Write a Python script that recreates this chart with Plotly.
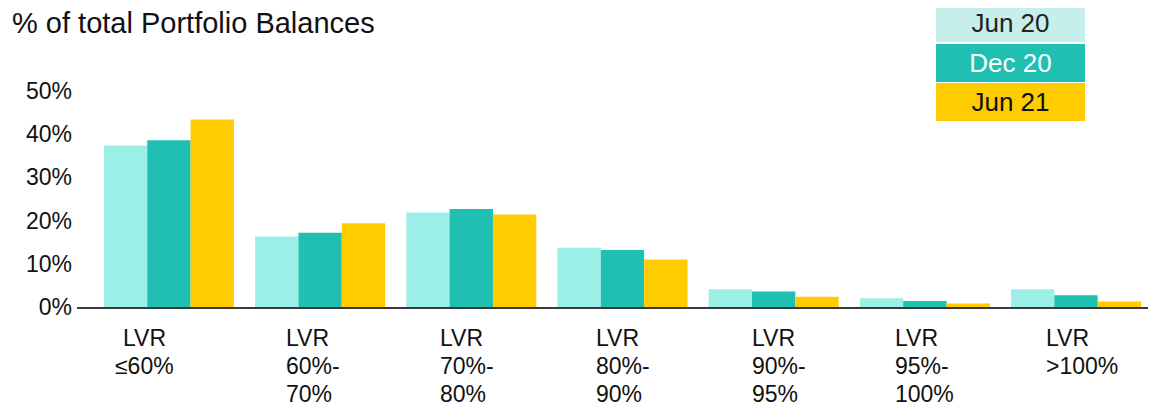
import plotly.graph_objects as go

# ---- data ----
categories = ["LVR<br>≤60%", "LVR<br>60%-<br>70%", "LVR<br>70%-<br>80%", "LVR<br>80%-<br>90%",
              "LVR<br>90%-<br>95%", "LVR<br>95%-<br>100%", "LVR<br>>100%"]
series_names = ["Jun 20", "Dec 20", "Jun 21"]
jun20 = [0.374, 0.163, 0.219, 0.137, 0.041, 0.020, 0.041]
dec20 = [0.386, 0.172, 0.227, 0.132, 0.036, 0.014, 0.027]
jun21 = [0.434, 0.194, 0.214, 0.110, 0.024, 0.008, 0.013]
y_tick_vals = [0, 0.1, 0.2, 0.3, 0.4, 0.5]
y_tick_text = ["0%", "10%", "20%", "30%", "40%", "50%"]
title_text = "% of total Portfolio Balances"

# ---- style ----
OFF = 8                  # page body margin
W, H = 1168 - OFF, 407 - OFF
bar_colors = ["#9BEFE7", "#1FBFB1", "#FFCC00"]
legend_bg = ["#C6EFEB", "#1FBFB1", "#FFCC00"]
legend_fg = ["#222222", "#FFFFFF", "#111111"]
FONT = "Liberation Sans, Arial, sans-serif"

# plot domain in screen px
L, R = 77 - OFF, 1148 - OFF
T, B = 90.5 - OFF, 306.7 - OFF
label_align = ["center", "left", "left", "left", "left", "left", "left"]
label_shift = [-24, -35, -32, -27, -23, -31, -31]
LABEL_FIRST = 31.0       # px below axis of first line's middle
LABEL_STEP = 27.8        # line spacing px

def px(xs, ys):
    """screen px -> paper coords"""
    xp, yp = xs - OFF, ys - OFF
    return (xp - L) / (R - L), (B - yp) / (B - T)

fig = go.Figure()
idx = list(range(len(categories)))
for name, vals, col in zip(series_names, [jun20, dec20, jun21], bar_colors):
    fig.add_trace(go.Bar(x=idx, y=vals, name=name, marker=dict(color=col, line=dict(width=0)),
                         showlegend=False))

fig.update_layout(
    width=W, height=H,
    margin=dict(l=L, r=W - R, t=T, b=H - B, pad=0),
    paper_bgcolor="white", plot_bgcolor="white",
    barmode="group", bargap=0.14, bargroupgap=0,
    font=dict(family=FONT, color="#111111"),
    xaxis=dict(range=[-0.608, 6.476], showticklabels=False, showgrid=False, zeroline=False,
               showline=True, linecolor="#3a3a3a", linewidth=2, ticks=""),
    yaxis=dict(range=[0, 0.5], tickvals=y_tick_vals, ticktext=y_tick_text, showgrid=False,
               zeroline=False, showline=False, ticks="", ticklabelstandoff=4,
               tickfont=dict(size=23, color="#111111")),
)

# category labels (one annotation per line for exact line spacing)
for i, (txt, al, sh) in enumerate(zip(categories, label_align, label_shift)):
    for k, line in enumerate(txt.split("<br>")):
        fig.add_annotation(x=i, y=0, xref="x", yref="y", text=line, showarrow=False,
                           xanchor="center" if al == "center" else "left", align=al,
                           height=20, borderpad=0, valign="middle",
                           xshift=sh, yshift=-(LABEL_FIRST + LABEL_STEP * k), yanchor="middle",
                           font=dict(size=23, color="#111111", family=FONT))

# title
tx, ty = px(12, 22)
fig.add_annotation(x=tx, y=ty, xref="paper", yref="paper", text=title_text, showarrow=False,
                   xanchor="left", yanchor="middle", xshift=-2,
                   font=dict(size=29, color="#111111", family=FONT))

# legend boxes
for k, (name, bg, fg) in enumerate(zip(series_names, legend_bg, legend_fg)):
    cx, cy = px(1010.5, 22 + 40 * k)
    fig.add_annotation(x=cx, y=cy, xref="paper", yref="paper", text=name, showarrow=False,
                       xanchor="center", yanchor="middle", width=149, height=38,
                       bgcolor=bg, borderpad=0, borderwidth=0,
                       font=dict(size=26, color=fg, family=FONT))

fig.write_html("out.html")
